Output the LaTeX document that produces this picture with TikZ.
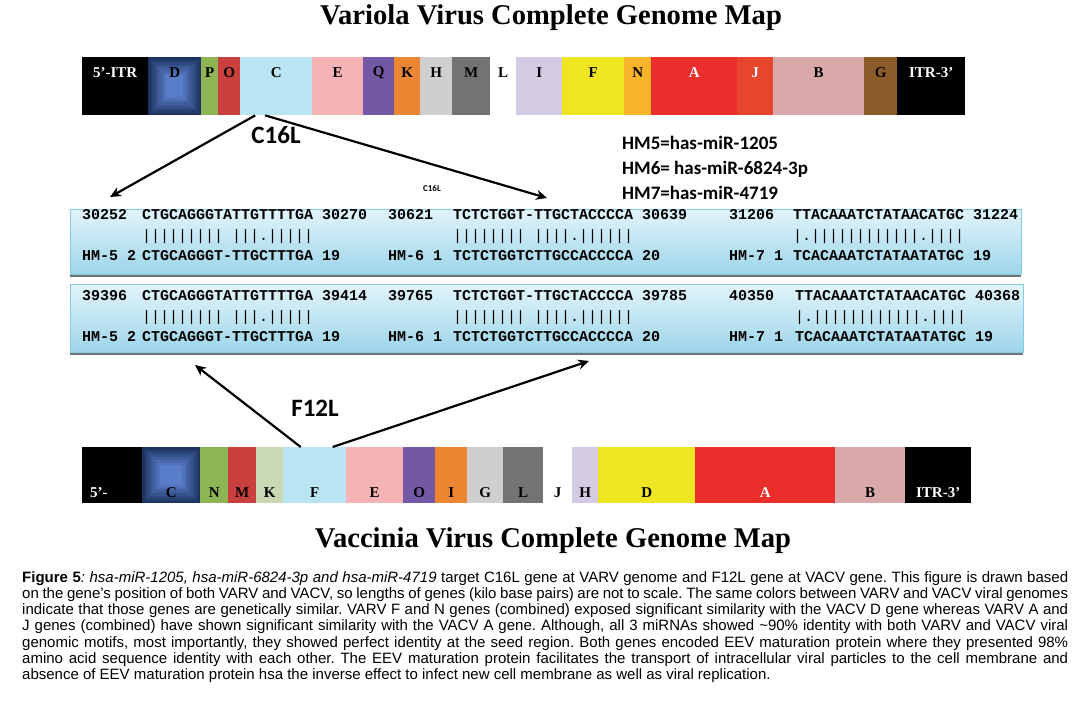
\documentclass[tikz,border=0pt]{standalone}
\usepackage{fontspec}
\setmainfont{Liberation Serif}
\setmonofont{Liberation Mono}
\newfontfamily\capfont{Liberation Sans}
\newfontfamily\calfont{Carlito}
\usepackage{tikz}
\usetikzlibrary{arrows.meta,shadows}

\definecolor{gnavy}{HTML}{1D3461}
\definecolor{gblue}{HTML}{5B7FCC}
\definecolor{ggreen}{HTML}{8DB554}
\definecolor{gred}{HTML}{C9403E}
\definecolor{gcyan}{HTML}{B9E4F2}
\definecolor{gpink}{HTML}{F5B3B5}
\definecolor{gpurple}{HTML}{7358A3}
\definecolor{gorange}{HTML}{EC8633}
\definecolor{glgray}{HTML}{CFCFCF}
\definecolor{ggray}{HTML}{737373}
\definecolor{glav}{HTML}{D2CBE3}
\definecolor{gyellow}{HTML}{EFE523}
\definecolor{gamber}{HTML}{F9B42A}
\definecolor{gredA}{HTML}{EA2E2B}
\definecolor{gredJ}{HTML}{E8452E}
\definecolor{gdusty}{HTML}{D9A9AA}
\definecolor{gbrown}{HTML}{8C5B2A}
\definecolor{gsage}{HTML}{CBD8B4}
\definecolor{boxtop}{HTML}{E2F4FA}
\definecolor{boxbot}{HTML}{9DD5EA}
\definecolor{boxline}{HTML}{86CDE3}

\begin{document}
\begin{tikzpicture}[x=1pt,y=-1pt,
  gene/.style={anchor=north west,inner sep=0pt,minimum height=#1},
  glabel/.style={inner sep=0pt,font=\bfseries\fontsize{15}{15}\selectfont},
  title/.style={inner sep=0pt,font=\bfseries\fontsize{28.6}{28.6}\selectfont},
  alnbox/.style={anchor=north west,inner sep=0pt,draw=boxline,
    top color=boxtop,bottom color=boxbot,
    drop shadow={shadow xshift=0pt,shadow yshift=-3pt,fill=black!55,opacity=1}},
  seq/.style={anchor=west,inner sep=0pt,text height=8pt,text depth=2pt,
    font=\ttfamily\bfseries\fontsize{15}{15}\selectfont},
  bars/.style={seq,font=\ttfamily\fontsize{15}{15}\selectfont},
  arr/.style={line width=2.2pt,-{Stealth[length=11pt,width=10pt]}},
  genename/.style={inner sep=0pt,font=\calfont\bfseries\fontsize{25}{25}\selectfont},
  legend/.style={anchor=west,inner sep=0pt,font=\calfont\bfseries\fontsize{19}{19}\selectfont}]

\fill[white] (0,0) rectangle (1089,701);
\useasboundingbox (0,0) rectangle (1089,701);

% titles
\node[title] (ttop) at (551,18) {Variola Virus Complete Genome Map};
\node[title] (tbot) at (553,541) {Vaccinia Virus Complete Genome Map};

% VARV genome bar
\foreach \n/\xa/\xb/\c/\t/\tc/\g in {
  tITR/82/148/black/5’-ITR/white/0, tD/148/201/gnavy/D/black/1,
  tP/201/218/ggreen/P/black/0, tO/218/240/gred/O/black/0,
  tC/240/312/gcyan/C/black/0, tE/312/363/gpink/E/black/0,
  tQ/363/394/gpurple/Q/black/0, tK/394/420/gorange/K/black/0,
  tH/420/452/glgray/H/black/0, tM/452/490/ggray/M/black/0,
  tL/490/516/white/L/black/0, tI/516/562/glav/I/black/0,
  tF/562/624/gyellow/F/black/0, tN/624/651/gamber/N/black/0,
  tA/651/737/gredA/A/white/0, tJ/737/773/gredJ/J/white/0,
  tB/773/864/gdusty/B/black/0, tG/864/897/gbrown/G/black/0,
  tITRr/897/965/black/ITR-3’/white/0}
{
  \node[gene=58pt,fill=\c,minimum width=(\xb-\xa)*1pt] (\n) at (\xa,57) {};
  \ifnum\g=1
    \foreach \k in {1,...,7}{
      \pgfmathtruncatemacro\p{\k*14}
      \fill[gblue!\p!gnavy] ([xshift=\k*2.6pt,yshift=\k*2.6pt]\n.south west)
        rectangle ([xshift=-\k*2.6pt,yshift=-\k*2.6pt]\n.north east);
    }
  \fi
  \node[glabel,text=\tc] (\n-l) at ([yshift=-16pt]\n.north) {\t};
}

% VACV genome bar
\foreach \n/\xa/\xb/\c/\t/\tc/\g in {
  b5/82/142/black/5’-\phantom{ITR}/white/0, bC/142/200/gnavy/C/black/1,
  bN/200/228/ggreen/N/black/0, bM/228/256/gred/M/black/0,
  bK/256/283/gsage/K/black/0, bF/283/346/gcyan/F/black/0,
  bE/346/403/gpink/E/black/0, bO/403/435/gpurple/O/black/0,
  bI/435/467/gorange/I/black/0, bG/467/503/glgray/G/black/0,
  bL/503/543/ggray/L/black/0, bJ/543/572/white/J/black/0,
  bH/572/598/glav/H/black/0, bD/598/695/gyellow/D/black/0,
  bA/695/835/gredA/A/white/0, bB/835/905/gdusty/B/black/0,
  bITR/905/971/black/ITR-3’/white/0}
{
  \node[gene=56pt,fill=\c,minimum width=(\xb-\xa)*1pt] (\n) at (\xa,447) {};
  \ifnum\g=1
    \foreach \k in {1,...,7}{
      \pgfmathtruncatemacro\p{\k*14}
      \fill[gblue!\p!gnavy] ([xshift=\k*2.6pt,yshift=\k*2.6pt]\n.south west)
        rectangle ([xshift=-\k*2.6pt,yshift=-\k*2.6pt]\n.north east);
    }
  \fi
  \node[glabel,text=\tc] (\n-l) at ([yshift=11pt]\n.south) {\t};
}

% alignment boxes
\node[alnbox,minimum width=951pt,minimum height=65pt] (box1) at (70,209) {};
\node[alnbox,minimum width=953pt,minimum height=68pt] (box2) at (70,284) {};

\foreach \ya/\xa/\xb/\s/\sa/\m/\h/\sb [count=\i] in {
  216/82/142/30252/CTGCAGGGTATTGTTTTGA 30270/|||||||||~|||.|||||/HM-5 2/CTGCAGGGT-TTGCTTTGA 19,
  216/388/453/30621/TCTCTGGT-TTGCTACCCCA 30639/||||||||~||||.||||||/HM-6 1/TCTCTGGTCTTGCCACCCCA 20,
  216/729/793/31206/TTACAAATCTATAACATGC 31224/|.||||||||||||.||||/HM-7 1/TCACAAATCTATAATATGC 19,
  297/82/142/39396/CTGCAGGGTATTGTTTTGA 39414/|||||||||~|||.|||||/HM-5 2/CTGCAGGGT-TTGCTTTGA 19,
  297/388/453/39765/TCTCTGGT-TTGCTACCCCA 39785/||||||||~||||.||||||/HM-6 1/TCTCTGGTCTTGCCACCCCA 20,
  297/729/795/40350/TTACAAATCTATAACATGC 40368/|.||||||||||||.||||/HM-7 1/TCACAAATCTATAATATGC 19}
{
  \node[seq] (s\i) at (\xa,\ya) {\s};
  \node[seq] (a\i) at (\xb,\ya) {\sa};
  \node[bars] (m\i) at (\xb,\ya+21) {\m};
  \node[seq] (h\i) at (\xa,\ya+41) {\h};
  \node[seq] (b\i) at (\xb,\ya+41) {\sb};
}

% arrows from the genes to the alignments
\coordinate (c16a) at (110,197);
\coordinate (c16b) at (547,198);
\coordinate (f12a) at (195,365);
\coordinate (f12b) at (589,361);
\draw[arr] ([xshift=-21pt]tC.south) -- (c16a);
\draw[arr] ([xshift=-11pt]tC.south) -- (c16b);
\draw[arr] ([xshift=-14pt]bF.north) -- (f12a);
\draw[arr] ([xshift=18pt]bF.north) -- (f12b);

\node[genename] (c16l) at (276,135) {C16L};
\node[genename] (f12l) at (315,408) {F12L};
\node[inner sep=0pt,font=\calfont\bfseries\fontsize{9}{9}\selectfont] (c16s) at (432,188) {C16L};

% legend
\node[legend] (hm5) at (622,143) {HM5=has-miR-1205};
\node[legend] (hm6) at (622,169) {HM6= has-miR-6824-3p};
\node[legend] (hm7) at (622,193) {HM7=has-miR-4719};

% caption
\node[anchor=north west,inner sep=0pt,text width=1046pt,align=justify,
  font=\capfont\fontsize{15}{16.3}\selectfont\frenchspacing] (cap) at (22,571)
{\textbf{Figure 5}\textit{: hsa-miR-1205, hsa-miR-6824-3p and hsa-miR-4719} target C16L gene at VARV genome and F12L gene at VACV gene. This figure is drawn based\linebreak
on the gene’s position of both VARV and VACV, so lengths of genes (kilo base pairs) are not to scale. The same colors between VARV and VACV viral genomes\linebreak
indicate that those genes are genetically similar. VARV F and N genes (combined) exposed significant similarity with the VACV D gene whereas VARV A and\linebreak
J genes (combined) have shown significant similarity with the VACV A gene. Although, all 3 miRNAs showed \textasciitilde90\% identity with both VARV and VACV viral\linebreak
genomic motifs, most importantly, they showed perfect identity at the seed region. Both genes encoded EEV maturation protein where they presented 98\%\linebreak
amino acid sequence identity with each other. The EEV maturation protein facilitates the transport of intracellular viral particles to the cell membrane and\linebreak
absence of EEV maturation protein hsa the inverse effect to infect new cell membrane as well as viral replication.};
\end{tikzpicture}
\end{document}
